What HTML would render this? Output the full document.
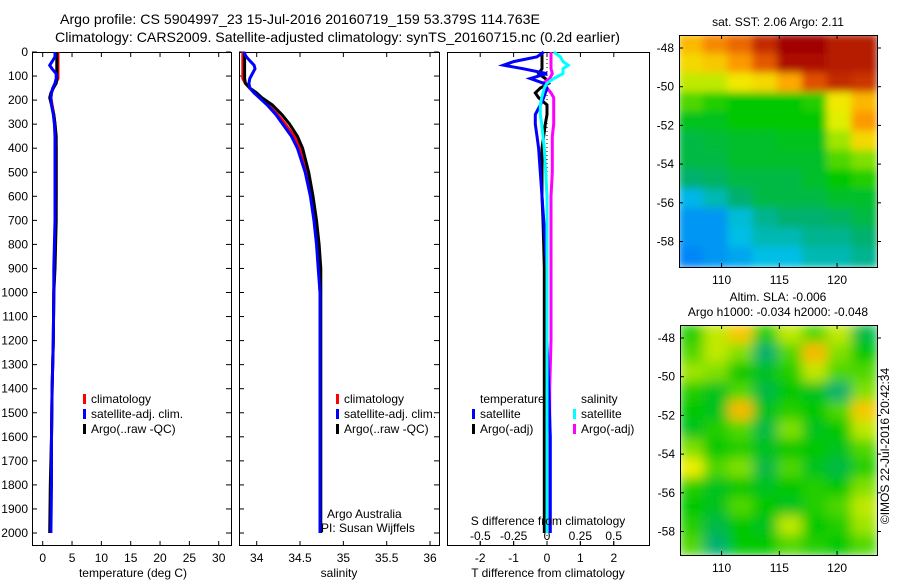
<!DOCTYPE html>
<html><head><meta charset="utf-8"><style>
html,body{margin:0;padding:0;background:#fff;}
svg{display:block;font-family:"Liberation Sans",sans-serif;}
text{font-size:12px;fill:#000;}
</style></head><body>
<svg id="fig" width="900" height="580" viewBox="0 0 900 580">
<g id="titles">
<text x="60" y="24" textLength="480" lengthAdjust="spacingAndGlyphs" style="font-size:14px">Argo profile: CS 5904997_23 15-Jul-2016 20160719_159 53.379S 114.763E</text>
<text x="55" y="42" textLength="565" lengthAdjust="spacingAndGlyphs" style="font-size:14px">Climatology: CARS2009. Satellite-adjusted climatology: synTS_20160715.nc (0.2d earlier)</text>
</g>
<g id="plots"></g>
</svg>
<script>
// ---------- data ----------
const depthTicks = [0,100,200,300,400,500,600,700,800,900,1000,1100,1200,1300,1400,1500,1600,1700,1800,1900,2000];
const tempTicks = [0,5,10,15,20,25,30];
const salTicks = [34,34.5,35,35.5,36];
const salTickLabels = ["34","34.5","35","35.5","36"];
const tdiffTicks = [-2,-1,0,1,2];
const sdiffTicks = [-0.5,-0.25,0,0.25,0.5];
const sdiffTickLabels = ["-0.5","-0.25","0","0.25","0.5"];

const depths = [0,20,40,55,70,90,110,130,150,170,190,220,260,300,350,400,500,600,700,800,900,1000,1200,1400,1600,1800,2000];
const tempClim  = [2.6,2.6,2.6,2.6,2.6,2.6,2.6,2.2,1.8,1.5,1.4,1.6,1.9,2.1,2.2,2.3,2.3,2.3,2.2,2.1,2.0,1.9,1.8,1.6,1.5,1.4,1.3];
const tempSat   = [2.1,2.1,1.6,1.2,1.6,2.3,2.3,2.1,1.7,1.5,1.4,1.5,1.8,2.0,2.1,2.1,2.1,2.1,2.1,2.0,1.9,1.9,1.8,1.6,1.5,1.5,1.4];
const tempArgo  = [2.4,2.4,2.4,2.4,2.4,2.4,2.4,2.3,1.8,1.4,1.2,1.5,1.9,2.1,2.3,2.3,2.3,2.3,2.3,2.2,2.1,1.9,1.8,1.6,1.5,1.3,1.2];
const salClim   = [33.84,33.84,33.84,33.84,33.84,33.84,33.84,33.87,33.92,33.98,34.03,34.13,34.24,34.33,34.43,34.50,34.58,34.63,34.67,34.70,34.72,34.73,34.73,34.73,34.73,34.73,34.73];
const salSat    = [33.85,33.88,33.93,33.97,33.98,33.95,33.92,33.91,33.92,33.97,34.03,34.12,34.22,34.30,34.40,34.47,34.56,34.62,34.66,34.69,34.71,34.73,34.73,34.73,34.73,34.73,34.73];
const salArgo   = [33.86,33.86,33.86,33.86,33.86,33.86,33.86,33.87,33.92,34.00,34.06,34.18,34.29,34.38,34.47,34.53,34.60,34.65,34.69,34.72,34.74,34.74,34.74,34.74,34.74,34.74,34.74];
const tdiffSat  = [-0.1,-0.3,-1.0,-1.3,-0.7,0.0,-0.5,-0.1,0.0,-0.05,-0.1,-0.2,-0.35,-0.35,-0.3,-0.25,-0.2,-0.15,-0.1,-0.05,0.0,0.0,0.0,0.05,0.1,0.1,0.1];
const tdiffArgo = [-0.15,-0.15,-0.15,-0.15,-0.15,-0.25,-0.05,0.05,-0.2,-0.35,-0.25,0.0,0.0,-0.05,-0.1,-0.15,-0.15,-0.15,-0.12,-0.1,-0.08,-0.08,-0.08,-0.08,-0.08,-0.08,-0.08];
const sdiffSat  = [0.05,0.1,0.12,0.16,0.12,0.12,0.05,0.0,-0.02,-0.03,-0.04,-0.05,-0.05,-0.04,-0.03,-0.02,-0.01,0.0,0.0,0.0,0.0,0.0,0.0,0.0,0.0,0.0,0.0];
const sdiffArgo = [0.03,0.03,0.03,0.03,0.03,0.04,0.02,-0.03,0.0,0.03,0.05,0.05,0.05,0.05,0.04,0.04,0.04,0.03,0.03,0.03,0.03,0.03,0.03,0.02,0.02,0.02,0.02];

const lonTicks = [110,115,120];
const latTicks = [-48,-50,-52,-54,-56,-58];
const latTickLabels = ["-48","-50","-52","-54","-56","-58"];
// SST map (normalised colour value, rows north->south, cols west->east)
const sstGrid = [
 [0.72,0.78,0.82,0.92,1.00,1.00,0.95,0.95],
 [0.68,0.70,0.76,0.84,0.97,0.97,0.95,0.95],
 [0.62,0.62,0.66,0.68,0.74,0.85,0.92,0.90],
 [0.55,0.52,0.50,0.50,0.50,0.52,0.66,0.72],
 [0.48,0.48,0.50,0.50,0.50,0.50,0.64,0.76],
 [0.45,0.46,0.47,0.47,0.48,0.48,0.60,0.68],
 [0.45,0.45,0.47,0.47,0.47,0.47,0.55,0.58],
 [0.42,0.43,0.45,0.45,0.45,0.47,0.50,0.52],
 [0.34,0.38,0.42,0.45,0.45,0.45,0.47,0.47],
 [0.30,0.30,0.36,0.40,0.42,0.42,0.43,0.45],
 [0.30,0.30,0.35,0.38,0.38,0.40,0.40,0.42],
 [0.28,0.30,0.32,0.35,0.35,0.38,0.38,0.40]];
// SLA map
const slaGrid = [
 [0.52,0.62,0.70,0.52,0.62,0.55,0.62,0.45],
 [0.55,0.62,0.58,0.42,0.55,0.72,0.58,0.50],
 [0.60,0.58,0.50,0.48,0.52,0.62,0.55,0.55],
 [0.52,0.48,0.55,0.45,0.50,0.48,0.42,0.58],
 [0.50,0.48,0.72,0.48,0.52,0.50,0.55,0.70],
 [0.48,0.52,0.55,0.45,0.58,0.48,0.50,0.62],
 [0.58,0.50,0.52,0.48,0.50,0.50,0.48,0.55],
 [0.65,0.55,0.58,0.45,0.55,0.48,0.45,0.52],
 [0.52,0.48,0.50,0.48,0.50,0.52,0.50,0.58],
 [0.50,0.48,0.55,0.50,0.48,0.52,0.55,0.62],
 [0.52,0.45,0.50,0.48,0.62,0.50,0.52,0.60],
 [0.55,0.42,0.50,0.50,0.55,0.52,0.50,0.55]];

// ---------- helpers ----------
const NS="http://www.w3.org/2000/svg";
const root=document.getElementById('plots');
function mk(tag,attrs,parent){const e=document.createElementNS(NS,tag);for(const k in attrs)e.setAttribute(k,attrs[k]);(parent||root).appendChild(e);return e;}
function txt(x,y,s,anchor,parent){const t=mk('text',{x:x,y:y,'text-anchor':anchor||'start'},parent);t.textContent=s;return t;}
const yD=d=>52+d*0.2405;
const xT=v=>42.7+v*5.867;
const xS=v=>256.7+(v-34)*86.67;
const xTD=v=>547+v*33.4;
const xSD=v=>547+v*133.4;

function panel(name,x0,x1){
  const g=mk('g',{});
  
  
  const r=mk('rect',{x:x0+0.5,y:52.5,width:x1-x0,height:493,fill:'none',stroke:'#000','stroke-width':1},g);
  
  
  return g;
}
function line(g,xs,xf,color,name,w){
  const pts=depths.map((d,i)=>xf(xs[i]).toFixed(1)+','+yD(d).toFixed(1)).join(' ');
  const p=mk('polyline',{points:pts,fill:'none',stroke:color,'stroke-width':w||3,'stroke-linejoin':'miter'},g);
  
  
}
function xticks(g,ticks,labels,xf,ty){
  ticks.forEach((t,i)=>{
    const x=xf(t);
    mk('line',{x1:x,x2:x,y1:545,y2:541,stroke:'#000'},g);
    mk('line',{x1:x,x2:x,y1:53,y2:57,stroke:'#000'},g);
    const l=txt(x,ty,labels[i],'middle',g);
    
    
  });
}
function legend(g,x,y,items){
  items.forEach((it,i)=>{
    if(it[0]) mk('rect',{x:x,y:y+i*15-9,width:3,height:10,fill:it[0]},g);
    const t=txt(x+8,y+i*15,it[1],'start',g);
    
    
  });
}

// ---------- panel 1 temperature ----------
const p1=panel('temperature-panel',32,231);
depthTicks.forEach(d=>{
  const y=yD(d);
  mk('line',{x1:32,x2:37,y1:y,y2:y,stroke:'#000'},p1);
  mk('line',{x1:231,x2:226,y1:y,y2:y,stroke:'#000'},p1);
  mk('line',{x1:239,x2:244,y1:y,y2:y,stroke:'#000'},p1);
  mk('line',{x1:439,x2:434,y1:y,y2:y,stroke:'#000'},p1);
  const t=txt(28,y+4,String(d),'end',p1);
  
  
});
xticks(p1,tempTicks,tempTicks.map(String),xT,562);
line(p1,tempClim,xT,'#ff0000','temp-climatology-line');
line(p1,tempArgo,xT,'#000000','temp-argo-line');
line(p1,tempSat,xT,'#0000ff','temp-satellite-line');
const xl1=txt(133,577,'temperature (deg C)','middle',p1);


legend(p1,83,403,[['#ff0000','climatology'],['#0000ff','satellite-adj. clim.'],['#000000','Argo(..raw -QC)']]);

// ---------- panel 2 salinity ----------
const p2=panel('salinity-panel',239,439);
xticks(p2,salTicks,salTickLabels,xS,562);
line(p2,salClim,xS,'#ff0000','sal-climatology-line');
line(p2,salArgo,xS,'#000000','sal-argo-line');
line(p2,salSat,xS,'#0000ff','sal-satellite-line');
const xl2=txt(339,577,'salinity','middle',p2);


legend(p2,336,403,[['#ff0000','climatology'],['#0000ff','satellite-adj. clim.'],['#000000','Argo(..raw -QC)']]);
const cr1=txt(327,518,'Argo Australia','start',p2);

const cr2=txt(321,532,'PI: Susan Wijffels','start',p2);


// ---------- panel 3 differences ----------
const p3=panel('difference-panel',447,649);
xticks(p3,tdiffTicks,tdiffTicks.map(String),xTD,562);
sdiffTicks.forEach((t,i)=>{
  const x=xSD(t);
  mk('line',{x1:x,x2:x,y1:545,y2:541,stroke:'#000'},p3);
  const l=txt(x,540,sdiffTickLabels[i],'middle',p3);
  
  
});
mk('line',{x1:547,x2:547,y1:55,y2:545,stroke:'#000','stroke-dasharray':'1,3'},p3);
line(p3,tdiffArgo,xTD,'#000000','tdiff-argo-line');
line(p3,sdiffArgo,xSD,'#ff00ff','sdiff-argo-line');
line(p3,tdiffSat,xTD,'#0000ff','tdiff-satellite-line');
line(p3,sdiffSat,xSD,'#00ffff','sdiff-satellite-line');
const xl3=txt(548,577,'T difference from climatology','middle',p3);

const xl4=txt(548,525,'S difference from climatology','middle',p3);

legend(p3,472,403,[[null,'temperature'],['#0000ff','satellite'],['#000000','Argo(-adj)']]);
legend(p3,573,403,[[null,'salinity'],['#00ffff','satellite'],['#ff00ff','Argo(-adj)']]);

// ---------- maps ----------
const cmapStops=[[0,[0,0,140]],[0.25,[0,110,255]],[0.35,[0,190,230]],[0.42,[0,176,110]],[0.5,[0,200,0]],[0.58,[128,224,0]],[0.65,[240,240,0]],[0.75,[255,160,0]],[0.85,[224,80,0]],[1,[160,0,0]]];
function cmap(v){
  v=Math.max(0,Math.min(1,v));
  for(let i=1;i<cmapStops.length;i++){
    const a=cmapStops[i-1],b=cmapStops[i];
    if(v<=b[0]){const f=(v-a[0])/(b[0]-a[0]);
      const c=a[1].map((x,k)=>Math.round(x+(b[1][k]-x)*f));
      return 'rgb('+c.join(',')+')';}
  }
  return 'rgb(160,0,0)';
}
function map(name,grid,x0,x1,y0,y1,yLat48,title,blur){
  const g=mk('g',{});
  
  
  const rows=grid.length, cols=grid[0].length;
  const cw=(x1-x0)/cols, ch=(y1-y0)/rows;
  const clip='clip-'+name;
  const cp=mk('clipPath',{id:clip},g); mk('rect',{x:x0,y:y0,width:x1-x0,height:y1-y0},cp);
  const cg=mk('g',{'clip-path':'url(#'+clip+')'},g);
  const ig=mk('g',{filter:'url(#'+blur+')'},cg);
  grid.forEach((row,r)=>row.forEach((v,c)=>{
    const cell=mk('rect',{x:x0+c*cw-1,y:y0+r*ch-1,width:cw+2,height:ch+2,fill:cmap(v)},ig);
    
    
  }));
  const fr=mk('rect',{x:x0+0.5,y:y0+0.5,width:x1-x0,height:y1-y0,fill:'none',stroke:'#000'},g);
  
  const xLon=l=>680+(l-106.4)*11.55;
  lonTicks.forEach(l=>{
    const x=xLon(l);
    mk('line',{x1:x,x2:x,y1:y1,y2:y1-4,stroke:'#000'},g);
    mk('line',{x1:x,x2:x,y1:y0,y2:y0+4,stroke:'#000'},g);
    const t=txt(x,y1+17,String(l),'middle',g);
    
  });
  latTicks.forEach((l,i)=>{
    const y=yLat48+(-48-l)*19.35;
    mk('line',{x1:x0,x2:x0+4,y1:y,y2:y,stroke:'#000'},g);
    mk('line',{x1:x1,x2:x1+4,y1:y,y2:y,stroke:'#000'},g);
    const t=txt(x0-5,y+4,latTickLabels[i],'end',g);
    
  });
  title.forEach((s)=>{
    const t=txt(778,s[1],s[0],'middle',g);
    
  });
}
const defs=mk('defs',{});
const f1=mk('filter',{id:'b1',x:'-5%',y:'-5%',width:'110%',height:'110%'},defs); mk('feGaussianBlur',{stdDeviation:'4'},f1);
const f2=mk('filter',{id:'b2',x:'-5%',y:'-5%',width:'110%',height:'110%'},defs); mk('feGaussianBlur',{stdDeviation:'6'},f2);
map('sst-map',sstGrid,679,877,35,267,48,[['sat. SST: 2.06 Argo: 2.11',26]],'b1');
map('sla-map',slaGrid,680,877,325,555,338,[['Altim. SLA: -0.006',301],['Argo h1000: -0.034 h2000: -0.048',316]],'b2');
const st=txt(0,0,'©IMOS 22-Jul-2016 20:42:34','middle');
st.setAttribute('transform','translate(889,446) rotate(-90)');


</script>
</body></html>
